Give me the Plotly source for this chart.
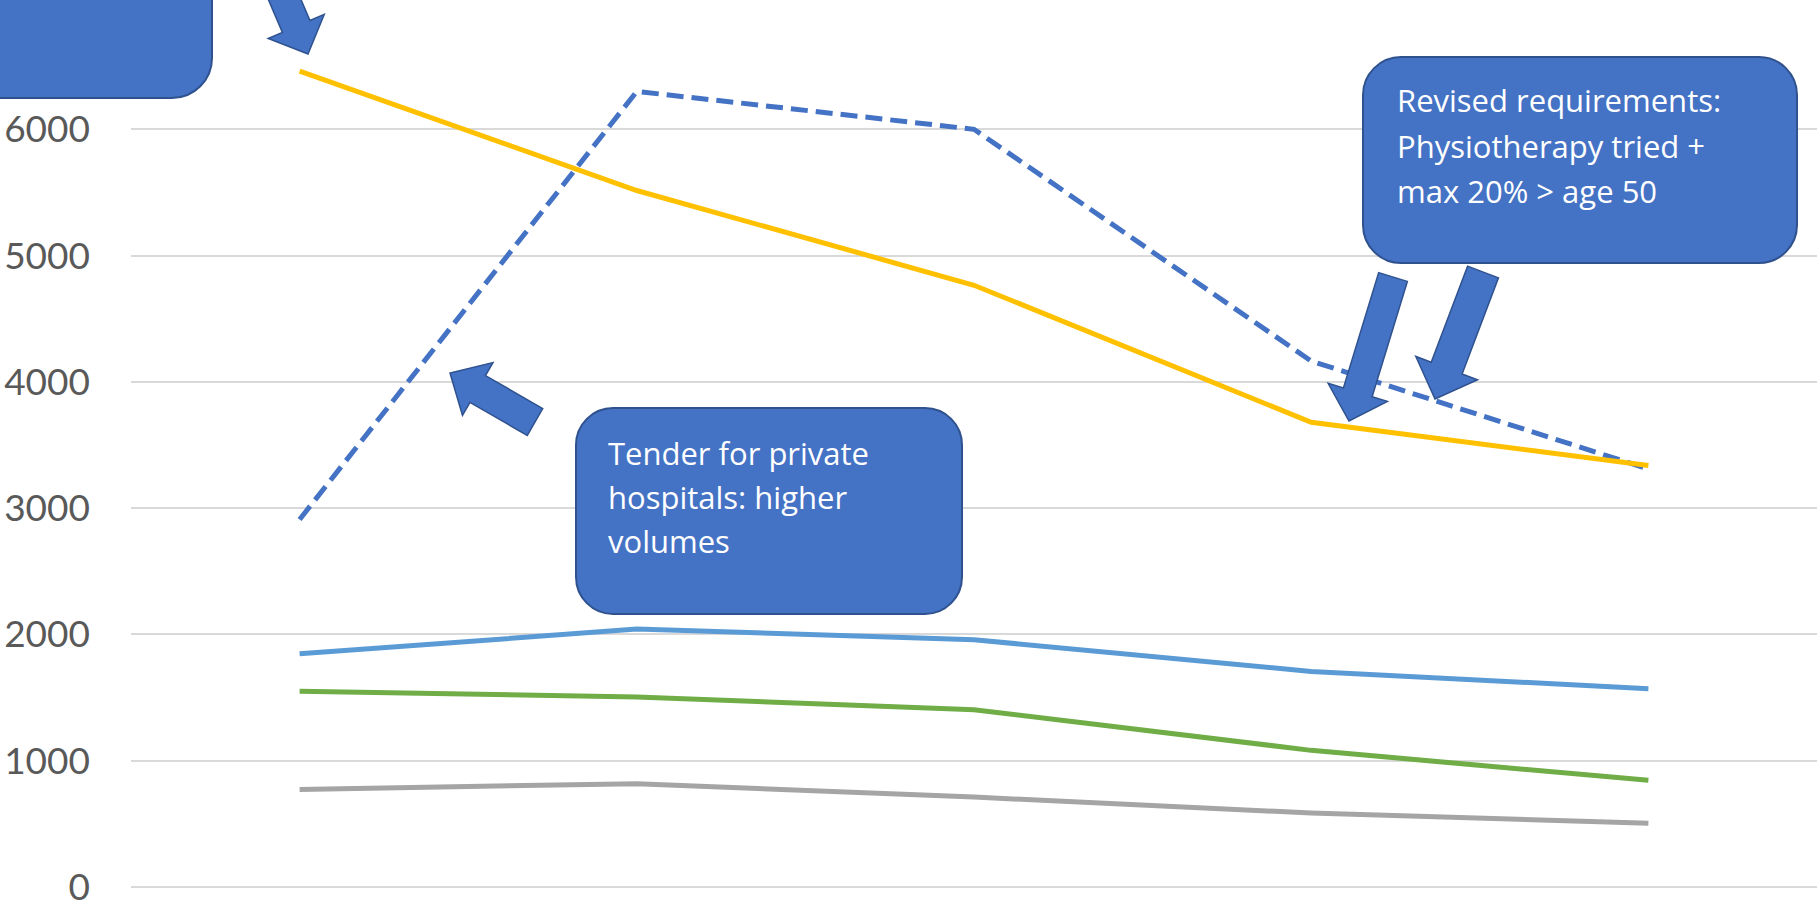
import math
import plotly.graph_objects as go

# ---- data -------------------------------------------------------------
periods = ["P1", "P2", "P3", "P4", "P5"]

dashed_blue = [2910, 6300, 6000, 4165, 3310]
gray_series = [773, 818, 712, 586, 505]
gold_series = [6460, 5515, 4765, 3680, 3338]
light_blue = [1847, 2042, 1958, 1707, 1570]
green_series = [1551, 1504, 1404, 1082, 845]

y_ticks = [0, 1000, 2000, 3000, 4000, 5000, 6000, 7000]
y_tick_text = ["0", "1000", "2000", "3000", "4000", "5000", "6000", ""]

note_right = ["Revised requirements:", "Physiotherapy tried +", "max 20% > age 50"]
note_middle = ["Tender for private", "hospitals: higher", "volumes"]

# ---- page geometry ----------------------------------------------------
W, H = 1818, 904
ML, MR, MT, MB = 131, 1, 3, 17
PW, PH = W - ML - MR, H - MT - MB

FILL = "#4472C4"
EDGE = "#2F528F"
TICK_FONT = "Lato"
NOTE_FONT = "Open Sans"


def px(x):
    return (x - ML) / PW


def py(y):
    return (H - MB - y) / PH


def rounded_box(x0, y0, x1, y1, r):
    k = 0.5523 * r
    pts = [
        f"M{px(x0 + r)},{py(y0)}",
        f"L{px(x1 - r)},{py(y0)}",
        f"C{px(x1 - r + k)},{py(y0)} {px(x1)},{py(y0 + r - k)} {px(x1)},{py(y0 + r)}",
        f"L{px(x1)},{py(y1 - r)}",
        f"C{px(x1)},{py(y1 - r + k)} {px(x1 - r + k)},{py(y1)} {px(x1 - r)},{py(y1)}",
        f"L{px(x0 + r)},{py(y1)}",
        f"C{px(x0 + r - k)},{py(y1)} {px(x0)},{py(y1 - r + k)} {px(x0)},{py(y1 - r)}",
        f"L{px(x0)},{py(y0 + r)}",
        f"C{px(x0)},{py(y0 + r - k)} {px(x0 + r - k)},{py(y0)} {px(x0 + r)},{py(y0)}",
        "Z",
    ]
    return dict(type="path", xref="paper", yref="paper", path=" ".join(pts),
                fillcolor=FILL, line=dict(color=EDGE, width=2), layer="above")


def block_arrow(tail, tip, shaft_w, head_w, head_len):
    tx, ty = tip
    sx, sy = tail
    L = math.hypot(tx - sx, ty - sy)
    ux, uy = (tx - sx) / L, (ty - sy) / L
    nx, ny = -uy, ux
    bx, by = tx - ux * head_len, ty - uy * head_len
    pts = [
        (sx + nx * shaft_w / 2, sy + ny * shaft_w / 2),
        (bx + nx * shaft_w / 2, by + ny * shaft_w / 2),
        (bx + nx * head_w / 2, by + ny * head_w / 2),
        (tx, ty),
        (bx - nx * head_w / 2, by - ny * head_w / 2),
        (bx - nx * shaft_w / 2, by - ny * shaft_w / 2),
        (sx - nx * shaft_w / 2, sy - ny * shaft_w / 2),
    ]
    path = "M" + " L".join(f"{px(a)},{py(b)}" for a, b in pts) + " Z"
    return dict(type="path", xref="paper", yref="paper", path=path,
                fillcolor=FILL, line=dict(color=EDGE, width=1.5), layer="above")


# ---- traces -----------------------------------------------------------
fig = go.Figure()
fig.add_trace(go.Scatter(x=periods, y=dashed_blue, mode="lines", name="Series 1",
                         line=dict(color="#4472C4", width=5, dash="17px,8px")))
fig.add_trace(go.Scatter(x=periods, y=gray_series, mode="lines", name="Series 3",
                         line=dict(color="#A5A5A5", width=5)))
fig.add_trace(go.Scatter(x=periods, y=gold_series, mode="lines", name="Series 4",
                         line=dict(color="#FFC000", width=5)))
fig.add_trace(go.Scatter(x=periods, y=light_blue, mode="lines", name="Series 5",
                         line=dict(color="#5B9BD5", width=5)))
fig.add_trace(go.Scatter(x=periods, y=green_series, mode="lines", name="Series 6",
                         line=dict(color="#70AD47", width=5)))

# ---- callouts ---------------------------------------------------------
shapes = [
    rounded_box(-60, -60, 212, 98, 40),
    rounded_box(1363, 57, 1797, 263, 38),
    rounded_box(576, 408, 962, 614, 37),
    block_arrow((272, -30), (308, 54), 30, 61, 30),
    block_arrow((535, 422), (450, 373), 31, 61, 32),
    block_arrow((1393, 277), (1349, 421), 30, 62, 30),
    block_arrow((1483, 272), (1435, 399), 33, 66, 33),
]

annotations = []
for i, line in enumerate(note_right):
    annotations.append(dict(x=px(1395), y=py(100 + i * 45.6), xref="paper", yref="paper",
                            text=line, showarrow=False, xanchor="left", yanchor="middle",
                            font=dict(family=NOTE_FONT, size=31, color="white")))
for i, line in enumerate(note_middle):
    annotations.append(dict(x=px(606), y=py(453 + i * 44.2), xref="paper", yref="paper",
                            text=line, showarrow=False, xanchor="left", yanchor="middle",
                            font=dict(family=NOTE_FONT, size=31, color="white")))

fig.update_layout(
    width=W, height=H,
    margin=dict(l=ML, r=MR, t=MT, b=MB, pad=0, autoexpand=False),
    paper_bgcolor="white", plot_bgcolor="white",
    showlegend=False,
    shapes=shapes,
    annotations=annotations,
    xaxis=dict(type="category", range=[-0.5, 4.5], showgrid=False, zeroline=False,
               showline=False, showticklabels=False, ticks="", automargin=False),
    yaxis=dict(range=[0, 7000], tickvals=y_ticks, ticktext=y_tick_text,
               showgrid=True, gridcolor="#D9D9D9", gridwidth=2,
               zeroline=True, zerolinecolor="#D9D9D9", zerolinewidth=2,
               showline=False, ticks="", ticklabelstandoff=40,
               ticklabeloverflow="allow", automargin=False,
               tickfont=dict(family=TICK_FONT, size=37, color="#595959")),
)

fig.write_html("out.html")
